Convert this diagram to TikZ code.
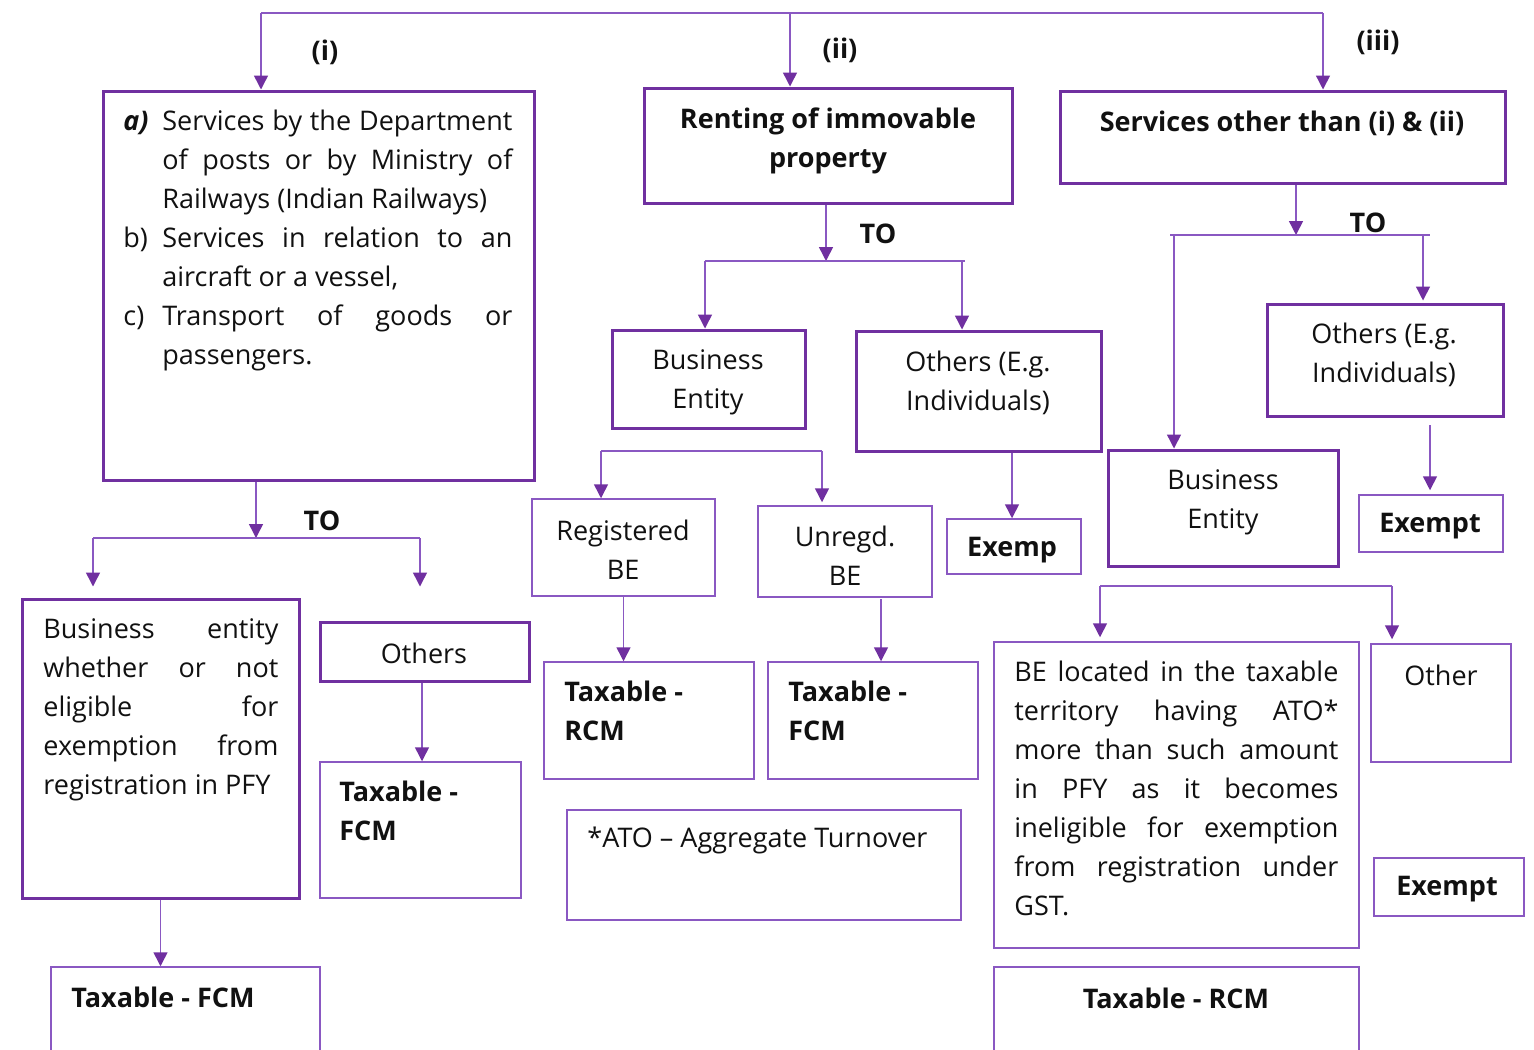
\documentclass[tikz,border=0pt]{standalone}
\usepackage{fontspec}
\setmainfont{Open Sans}
\usetikzlibrary{arrows.meta,fit}
\definecolor{pdark}{HTML}{7030A0}
\definecolor{plight}{HTML}{8A58C2}
\definecolor{txt}{HTML}{111111}
\newcommand{\mysize}{\fontsize{13.5}{19.5}\selectfont}
\newcommand{\jsp}{\spaceskip=0.26em plus 10em minus 0.12em\relax}
\newcommand{\gstitem}[2]{\noindent\hangindent=19.5pt\hangafter=1\makebox[19.5pt][l]{#1}#2\par}
\tikzset{
 thickbox/.style={draw=pdark, line width=1.5pt, inner sep=0pt},
 thinbox/.style={draw=plight, line width=0.75pt, inner sep=0pt},
 conn/.style={draw=plight, line width=0.75pt},
 arr/.style={conn, -{Triangle[width=7pt,length=7pt,color=pdark]}},
 txtc/.style={inner sep=0pt, align=center, text=txt, font=\mysize, yshift=-1.25pt},
 txtb/.style={inner sep=0pt, align=center, text=txt, font=\mysize\bfseries, yshift=-1pt},
 txtl/.style={inner sep=0pt, align=left, anchor=west, text=txt, font=\mysize\bfseries},
 para/.style={inner sep=0pt, anchor=north west, align=justify, text=txt, font=\mysize},
}
\begin{document}
\begin{tikzpicture}[x=0.5pt,y=-0.5pt]
\useasboundingbox[fill=white] (0,0) rectangle (1534,1049);

% ---------- boxes
\node[thickbox, fit={(103,91)(534,480)}] (b1) {};
\node[thickbox, fit={(644,88)(1012,203)}] (b2) {};
\node[thickbox, fit={(1060,91)(1505,183)}] (b3) {};
\node[thickbox, fit={(22,599)(299,898)}] (lbe) {};
\node[thickbox, fit={(320,622)(529,681)}] (loth) {};
\node[thinbox, fit={(320,762)(521,898)}] (lfcm) {};
\node[thinbox, fit={(51,967)(320,1070)}] (lfcm2) {};
\node[thickbox, fit={(612,330)(805,428)}] (mbe) {};
\node[thickbox, fit={(856,331)(1101,451)}] (moth) {};
\node[thinbox, fit={(532,499)(715,596)}] (mreg) {};
\node[thinbox, fit={(758,506)(932,597)}] (munr) {};
\node[thinbox, fit={(947,519)(1081,574)}] (mex) {};
\node[thinbox, fit={(544,662)(754,779)}] (mrcm) {};
\node[thinbox, fit={(768,662)(978,779)}] (mfcm) {};
\node[thinbox, fit={(567,810)(961,920)}] (ato) {};
\node[thickbox, fit={(1267,304)(1503,416)}] (roth) {};
\node[thinbox, fit={(1359,495)(1503,552)}] (rex1) {};
\node[thickbox, fit={(1108,450)(1338,566)}] (rbe) {};
\node[thinbox, fit={(994,642)(1359,948)}] (rloc) {};
\node[thinbox, fit={(1371,644)(1511,762)}] (roth2) {};
\node[thinbox, fit={(1374,858)(1524,916)}] (rex2) {};
\node[thinbox, fit={(994,967)(1359,1070)}] (rrcm) {};

% ---------- texts
\node[txtb] (li) at (325,50) {(i)};
\node[txtb] (lii) at (840,48) {(ii)};
\node[txtb] (liii) at (1378,40) {(iii)};
\node[txtb] (to1) at (322,519) {TO};
\node[txtb] (to2) at (878,232) {TO};
\node[txtb] (to3) at (1368,221) {TO};

\node[para, text width=194.5pt] (tb1) at (123,110)
 {\jsp\gstitem{\textbf{\textit{a)}}}{Services by the Department\linebreak of posts or by Ministry of\linebreak Railways (Indian Railways)}%
  \gstitem{b)}{Services in relation to an\linebreak aircraft or a vessel,}%
  \gstitem{c)}{Transport of goods or\linebreak passengers.}};
\node[txtb] (tb2) at (828,138.5) {Renting of immovable\\property};
\node[txtb] (tb3) at (1282,121) {Services other than (i) \& (ii)};

\node[para, text width=117.5pt] (tlbe) at (43,618)
 {\jsp Business entity\linebreak whether or not\linebreak eligible for\linebreak exemption from\linebreak registration in PFY};
\node[txtc] (tloth) at (424,651) {Others};
\node[txtl] (tlfcm) at (339,810.5) {Taxable -\\FCM};
\node[txtl] (tlfcm2) at (71,997) {Taxable - FCM};

\node[txtc] (tmbe) at (708,380) {Business\\Entity};
\node[txtc] (tmoth) at (978,380.5) {Others (E.g.\\Individuals)};
\node[txtc] (tmreg) at (623,547) {Registered\\BE};
\node[txtc] (tmunr) at (845,553) {Unregd.\\BE};
\node[txtb] (tmex) at (1012,548) {Exemp};
\node[txtl] (tmrcm) at (564,710.5) {Taxable -\\RCM};
\node[txtl] (tmfcm) at (788,710.5) {Taxable -\\FCM};
\node[inner sep=0pt, anchor=west, text=txt, font=\mysize] (tato) at (587,840) {*ATO -- Aggregate Turnover};

\node[txtc] (troth) at (1384,352.5) {Others (E.g.\\Individuals)};
\node[txtb] (trex1) at (1430,524) {Exempt};
\node[txtc] (trbe) at (1223,500) {Business\\Entity};
\node[para, text width=162pt] (trloc) at (1014,661)
 {\jsp BE located in the taxable\linebreak territory having ATO*\linebreak more than such amount\linebreak in PFY as it becomes\linebreak ineligible for exemption\linebreak from registration under\linebreak GST.};
\node[txtc] (troth2) at (1441,673) {Other};
\node[txtb] (trex2) at (1447,887) {Exempt};
\node[txtb] (trrcm) at (1176,996) {Taxable - RCM};

% ---------- connectors
\coordinate (t1c) at (261,13);
\coordinate (t2c) at (790,13);
\coordinate (t3c) at (1323,13);
\draw[conn] (t1c) -- (t3c);
\draw[arr] (t1c) -- (t1c |- b1.north);
\draw[arr] (t2c) -- (t2c |- b2.north);
\draw[arr] (t3c) -- (t3c |- b3.north);

\coordinate (j1) at (256,538);
\coordinate (la) at (93,538);
\coordinate (lb) at (420,538);
\draw[arr] (b1.south -| j1) -- (j1);
\draw[conn] (la) -- (lb);
\draw[arr, shorten >=5.5pt] (la) -- (la |- lbe.north);
\draw[arr, shorten >=17pt] (lb) -- (lb |- loth.north);
\coordinate (lo) at (422,684);
\draw[arr] (loth.south -| lo) -- (lo |- lfcm.north);
\draw[arr] (lbe.south) -- (lbe.south |- lfcm2.north);

\coordinate (j2) at (826,261);
\coordinate (ma) at (705,261);
\coordinate (mb) at (962,261);
\coordinate (mbx) at (965,261);
\draw[arr] (b2.south -| j2) -- (j2);
\draw[conn] (ma) -- (mbx);
\draw[arr] (ma) -- (ma |- mbe.north);
\draw[arr] (mb) -- (mb |- moth.north);
\coordinate (ra) at (601,451);
\coordinate (rb) at (822,451);
\draw[conn] (ra) -- (rb);
\draw[arr] (ra) -- (ra |- mreg.north);
\draw[arr, shorten >=1.5pt] (rb) -- (rb |- munr.north);
\coordinate (me) at (1012,451);
\draw[arr] (moth.south -| me) -- (me |- mex.north);
\draw[arr] (mreg.south) -- (mreg.south |- mrcm.north);
\coordinate (mu) at (881,599);
\draw[arr] (mu) -- (mu |- mfcm.north);

\coordinate (j3) at (1296,235);
\coordinate (rr0) at (1170,235);
\coordinate (rr1) at (1430,235);
\coordinate (rra) at (1174,235);
\coordinate (rrb) at (1423,235);
\draw[arr] (b3.south -| j3) -- (j3);
\draw[conn] (rr0) -- (rr1);
\draw[arr] (rra) -- (rra |- rbe.north);
\draw[arr, shorten >=1pt] (rrb) -- (rrb |- roth.north);
\coordinate (rx) at (1430,425);
\draw[arr, shorten >=2pt] (rx) -- (rx |- rex1.north);
\coordinate (sa) at (1100,586);
\coordinate (sb) at (1392,586);
\draw[conn] (sa) -- (sb);
\draw[arr, shorten >=2pt] (sa) -- (sa |- rloc.north);
\draw[arr, shorten >=2pt] (sb) -- (sb |- roth2.north);
\end{tikzpicture}
\end{document}
